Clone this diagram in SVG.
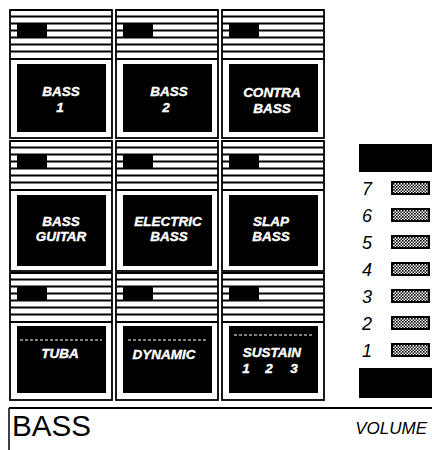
<svg xmlns="http://www.w3.org/2000/svg" xmlns:xlink="http://www.w3.org/1999/xlink" width="432" height="450" viewBox="0 0 432 450">
<style>
.ln{stroke:#000;stroke-width:1.8;fill:none}
.col{stroke:#000;stroke-width:1.8;fill:#fff}
.pad{fill:#000}
.lbl{font-family:"Liberation Sans",Arial,sans-serif;font-weight:bold;font-style:italic;font-size:13.5px;fill:#fff;stroke:#fff;stroke-width:0.35;text-anchor:middle}
.num{font-family:"Liberation Sans",Arial,sans-serif;font-style:italic;font-size:18px;fill:#000}
.dash{stroke:#fff;stroke-width:1;stroke-dasharray:3 2;fill:none}
</style>
<defs>
<g id="hdr">
<line class="ln" x1="0" y1="0" x2="102" y2="0" stroke-width="2.4"/>
<line class="ln" x1="0" y1="6.5" x2="102" y2="6.5"/>
<line class="ln" x1="0" y1="13.5" x2="102" y2="13.5"/>
<line class="ln" x1="0" y1="20.5" x2="102" y2="20.5"/>
<line class="ln" x1="0" y1="27.5" x2="102" y2="27.5"/>
<line class="ln" x1="0" y1="34.5" x2="102" y2="34.5"/>
<line class="ln" x1="0" y1="41.5" x2="102" y2="41.5"/>
<line class="ln" x1="0" y1="49" x2="102" y2="49"/>
<rect x="7" y="13" width="30" height="15" rx="2" fill="#000"/>
</g>
<pattern id="dots" width="3" height="3" patternUnits="userSpaceOnUse">
<rect width="3" height="3" fill="#fff"/>
<rect x="0" y="0" width="1.6" height="1.6" fill="#000"/>
<rect x="1.5" y="1.5" width="1.6" height="1.6" fill="#222"/>
</pattern>
</defs>

<g id="btn-bass1">
<rect class="col" x="10" y="10" width="102" height="128"/>
<use xlink:href="#hdr" x="10" y="10"/>
<rect class="pad" x="17" y="64" width="89" height="68"/>
<text class="lbl" x="61" y="96">BASS</text>
<text class="lbl" x="60" y="112">1</text>
</g>
<g id="btn-bass2">
<rect class="col" x="116" y="10" width="102" height="128"/>
<use xlink:href="#hdr" x="116" y="10"/>
<rect class="pad" x="123" y="64" width="89" height="68"/>
<text class="lbl" x="169" y="96">BASS</text>
<text class="lbl" x="166" y="112">2</text>
</g>
<g id="btn-contrabass">
<rect class="col" x="222" y="10" width="102" height="128"/>
<use xlink:href="#hdr" x="222" y="10"/>
<rect class="pad" x="229" y="64" width="89" height="68"/>
<text class="lbl" x="272" y="97">CONTRA</text>
<text class="lbl" x="272" y="113">BASS</text>
</g>

<g id="btn-bassguitar">
<rect class="col" x="10" y="141" width="102" height="130"/>
<use xlink:href="#hdr" x="10" y="141"/>
<rect class="pad" x="17" y="195" width="89" height="71"/>
<text class="lbl" x="61" y="226">BASS</text>
<text class="lbl" x="61" y="241">GUITAR</text>
</g>
<g id="btn-electricbass">
<rect class="col" x="116" y="141" width="102" height="130"/>
<use xlink:href="#hdr" x="116" y="141"/>
<rect class="pad" x="123" y="195" width="89" height="71"/>
<text class="lbl" x="168" y="226">ELECTRIC</text>
<text class="lbl" x="169" y="241">BASS</text>
</g>
<g id="btn-slapbass">
<rect class="col" x="222" y="141" width="102" height="130"/>
<use xlink:href="#hdr" x="222" y="141"/>
<rect class="pad" x="229" y="195" width="89" height="71"/>
<text class="lbl" x="271" y="226">SLAP</text>
<text class="lbl" x="271" y="241">BASS</text>
</g>

<g id="btn-tuba">
<rect class="col" x="10" y="273" width="102" height="127"/>
<use xlink:href="#hdr" x="10" y="273"/>
<rect class="pad" x="17" y="326" width="89" height="67"/>
<line class="dash" x1="20" y1="340" x2="102" y2="340"/>
<text class="lbl" x="60" y="358">TUBA</text>
</g>
<g id="btn-dynamic">
<rect class="col" x="116" y="273" width="102" height="127"/>
<use xlink:href="#hdr" x="116" y="273"/>
<rect class="pad" x="123" y="326" width="89" height="67"/>
<line class="dash" x1="128" y1="340" x2="208" y2="340" stroke-dasharray="2 5"/>
<text class="lbl" x="164" y="359">DYNAMIC</text>
</g>
<g id="btn-sustain">
<rect class="col" x="222" y="273" width="102" height="127"/>
<use xlink:href="#hdr" x="222" y="273"/>
<rect class="pad" x="229" y="326" width="89" height="67"/>
<line class="dash" x1="234" y1="335" x2="314" y2="335" stroke-dasharray="2 4"/>
<text class="lbl" x="272" y="357">SUSTAIN</text>
<text class="lbl" x="246" y="373">1</text>
<text class="lbl" x="269" y="373">2</text>
<text class="lbl" x="294" y="373">3</text>
</g>

<g id="volume-meter">
<rect x="359" y="144" width="73" height="28" fill="#000"/>
<text class="num" x="362" y="195">7</text>
<text class="num" x="362" y="222">6</text>
<text class="num" x="362" y="249">5</text>
<text class="num" x="362" y="276">4</text>
<text class="num" x="362" y="303">3</text>
<text class="num" x="362" y="330">2</text>
<text class="num" x="362" y="357">1</text>
<g fill="url(#dots)" stroke="#000" stroke-width="2">
<rect x="392" y="182" width="37" height="12"/>
<rect x="392" y="209" width="37" height="12"/>
<rect x="392" y="236" width="37" height="12"/>
<rect x="392" y="263" width="37" height="12"/>
<rect x="392" y="290" width="37" height="12"/>
<rect x="392" y="317" width="37" height="12"/>
<rect x="392" y="344" width="37" height="12"/>
</g>
<rect x="359" y="368" width="73" height="30" fill="#000"/>
</g>

<g id="display">
<line x1="9" y1="408" x2="432" y2="408" stroke="#000" stroke-width="2"/>
<line x1="9" y1="408" x2="9" y2="450" stroke="#000" stroke-width="1.5"/>
<text x="12" y="436" font-family="Liberation Sans, Arial, sans-serif" font-size="29" textLength="79" lengthAdjust="spacingAndGlyphs" fill="#000">BASS</text>
<text x="427" y="434" font-family="Liberation Sans, Arial, sans-serif" font-style="italic" font-size="17" text-anchor="end" fill="#000">VOLUME</text>
</g>
</svg>
